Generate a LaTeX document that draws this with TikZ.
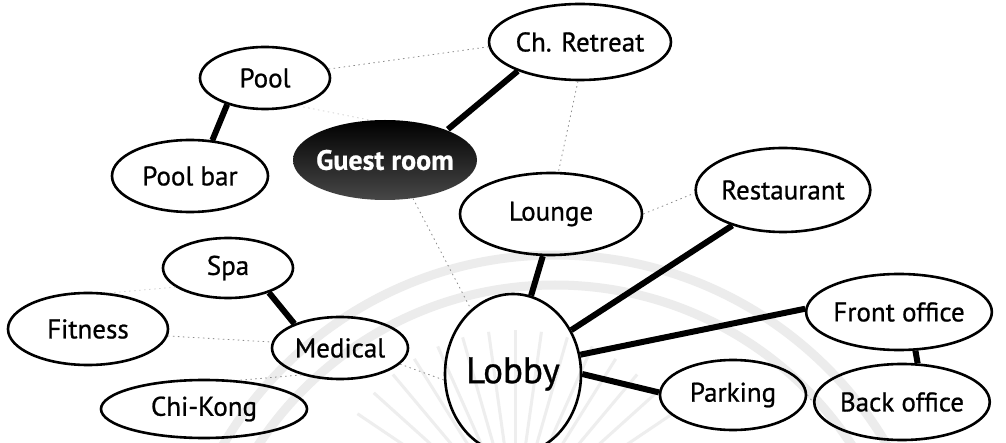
\documentclass[tikz,border=0pt]{standalone}
\usepackage{fontspec}
\setmainfont{PT Sans}[FakeBold=0.8]
\usetikzlibrary{shapes.geometric,calc}
\begin{document}
\begin{tikzpicture}[x=1pt,y=-1pt,
  bub/.style={ellipse, draw=black, line width=2.6pt, inner sep=0pt, font=\fontsize{27}{29}\selectfont},
  strong/.style={line width=6pt, black},
  weak/.style={line width=0.8pt, gray!90, dash pattern=on 1.5pt off 3.5pt},
  wm/.style={gray!15, line width=9pt},
  ray/.style={gray!13, line width=3pt}]
\useasboundingbox (0,0) rectangle (1006,443);
\fill[white] (0,0) rectangle (1006,443);
% faint background watermark
\draw[wm] (555,640) circle (385pt);
\draw[wm] (555,640) circle (355pt);
\foreach \a in {34,42,...,146} {
  \draw[ray] ($(515,520)+(\a:60pt)$) -- ($(515,520)+(\a:190pt)$);
}
% nodes
\node[bub, minimum width=130pt, minimum height=62pt] (pool) at (265,78) {Pool};
\node[bub, minimum width=156pt, minimum height=72pt] (poolbar) at (190,176) {Pool bar};
\shade[top color=black, bottom color=black!72] (385,160) ellipse [x radius=92pt, y radius=40pt];
\node[ellipse, inner sep=0pt, minimum width=184pt, minimum height=80pt, text=white,
      font=\fontsize{28}{30}\selectfont\bfseries] (guest) at (385,160) {Guest room};
\node[bub, minimum width=152pt, minimum height=76pt] (retreat) at (580,42) {Ch. Retreat};
\node[bub, minimum width=182pt, minimum height=82pt] (lounge) at (551,214) {Lounge};
\node[bub, minimum width=170pt, minimum height=84pt] (restaurant) at (783,190) {Restaurant};
\node[bub, minimum width=130pt, minimum height=60pt] (spa) at (228,268) {Spa};
\node[bub, minimum width=160pt, minimum height=72pt] (fitness) at (88,329) {Fitness};
\node[bub, minimum width=136pt, minimum height=62pt] (medical) at (340,348) {Medical};
\node[bub, minimum width=206pt, minimum height=58pt] (chikong) at (204,409) {Chi-Kong};
\node[bub, minimum width=136pt, minimum height=160pt, font=\fontsize{37}{39}\selectfont] (lobby) at (513,374) {Lobby};
\node[bub, minimum width=156pt, minimum height=76pt] (front) at (899,312) {Front office};
\node[bub, minimum width=146pt, minimum height=70pt] (parking) at (733,395) {Parking};
\node[bub, minimum width=166pt, minimum height=76pt] (back) at (902,402) {Back office};
% strong links
\draw[strong] (pool.215) -- (poolbar.58);
\draw[strong] (guest.26) -- (retreat.205);
\draw[strong] (lounge.-101) -- (lobby.77);
\draw[strong] (restaurant.215) -- (lobby.37);
\draw[strong] (front.178) -- (lobby.16);
\draw[strong] (parking.178) -- (lobby.0);
\draw[strong] (spa.-31) -- (medical.152);
\draw[strong] (front.-67) -- (back.68);
% weak links
\draw[weak] (pool.8) -- (retreat.183);
\draw[weak] (retreat.-93) -- (lounge.80);
\draw[weak] (guest.-54) -- (lobby.123);
\draw[weak] (lounge.0) -- (restaurant.182);
\draw[weak] (fitness.-5) -- (medical.175);
\draw[weak] (medical.-15) -- (lobby.185);
\draw[weak] (medical.215) -- (chikong.40);
\draw[weak] (parking.0) -- (back.180);
\draw[weak, gray!35] (spa.200) -- (fitness.60);
\draw[weak, gray!35] (pool.-40) -- (guest.110);
\end{tikzpicture}
\end{document}
